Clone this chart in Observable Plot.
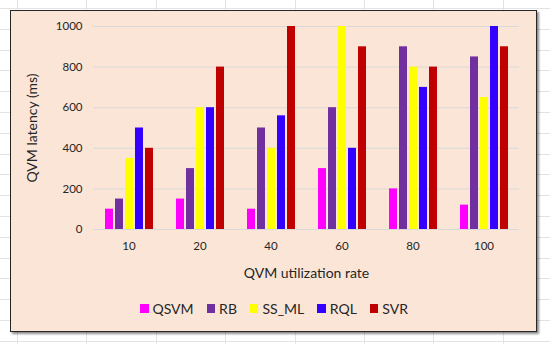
<!DOCTYPE html>
<html>
<head>
<meta charset="utf-8">
<script src="https://cdn.jsdelivr.net/npm/d3@7"></script>
<script src="https://cdn.jsdelivr.net/npm/@observablehq/plot@0.6"></script>
<style>
  html, body { margin: 0; padding: 0; background: #fff; }
  #page {
    position: relative; width: 550px; height: 344px; overflow: hidden;
    background-color: #fff;
    background-image:
      repeating-linear-gradient(to right, transparent 0, transparent 17px, #e3e3e3 17px, #e3e3e3 18px, transparent 18px, transparent 69.4px),
      repeating-linear-gradient(to bottom, transparent 0, transparent 8px, #e3e3e3 8px, #e3e3e3 9px, transparent 9px, transparent 20.8px);
  }
  #frame {
    position: absolute; left: 10px; top: 10px; width: 525px; height: 320px;
    background: #FBE5D6; border: 1.5px solid #262626;
    box-shadow: 2px 2px 2px rgba(0,0,0,0.45);
  }
  #chart { position: absolute; left: 0; top: 0; }
  #chart svg g[aria-label="y-axis label"] text,
  #chart svg g[aria-label="fx-axis label"] text { font-size: 14px; }
  #legend {
    position: absolute; left: 10px; width: 528px; top: 300px;
    display: flex; justify-content: center; align-items: center;
    font-family: Lato, sans-serif; font-size: 14px; color: #262626;
  }
  .item { display: flex; align-items: center; margin: 0 6.5px; }
  .sw { width: 8.5px; height: 8.5px; margin-right: 4px; }
</style>
</head>
<body>
<div id="page">
  <div id="frame"></div>
  <div id="chart"></div>
  <div id="legend"></div>
</div>
<script>
const categories = ["10", "20", "40", "60", "80", "100"];
const series = ["QSVM", "RB", "SS_ML", "RQL", "SVR"];
const colors = ["#FF00FF", "#7030A0", "#FFFF00", "#3300FF", "#C00000"];
const qsvm = [100, 150, 100, 300, 200, 120];
const rb = [150, 300, 500, 600, 900, 850];
const ssml = [350, 600, 400, 1000, 800, 650];
const rql = [500, 600, 560, 400, 700, 1000];
const svr = [400, 800, 1000, 900, 800, 900];
const yTicks = [0, 200, 400, 600, 800, 1000];

const seriesValues = [qsvm, rb, ssml, rql, svr];
const data = categories.flatMap((c, i) =>
  series.map((s, j) => ({cat: c, series: s, value: seriesValues[j][i]}))
);

const chart = Plot.plot({
  width: 550,
  height: 344,
  marginLeft: 90,
  marginRight: 29,
  marginTop: 26,
  marginBottom: 115,
  style: {background: "transparent", fontFamily: "Lato, sans-serif", fontSize: "11.5px", color: "#262626"},
  fx: {domain: categories, padding: 0},
  x: {domain: series, paddingInner: 0.23, paddingOuter: 0.865, axis: null},
  y: {domain: [0, 1000]},
  color: {domain: series, range: colors},
  marks: [
    Plot.gridY(yTicks, {stroke: "#d9d9d9", strokeOpacity: 1}),
    Plot.barY(data, {fx: "cat", x: "series", y: "value", fill: "series"}),
    Plot.axisY(yTicks, {tickSize: 0, tickPadding: 11, tickFormat: d => String(d), label: "QVM latency (ms)", labelArrow: "none", labelAnchor: "center", labelOffset: 66}),
    Plot.axisFx({anchor: "bottom", tickSize: 0, tickPadding: 12, label: "QVM utilization rate", labelArrow: "none", labelAnchor: "center", labelOffset: 48})
  ]
});
document.getElementById("chart").appendChild(chart);

const legend = d3.select("#legend");
series.forEach((s, i) => {
  const it = legend.append("div").attr("class", "item");
  it.append("div").attr("class", "sw").style("background", colors[i]);
  it.append("span").text(s);
});
</script>
</body>
</html>
